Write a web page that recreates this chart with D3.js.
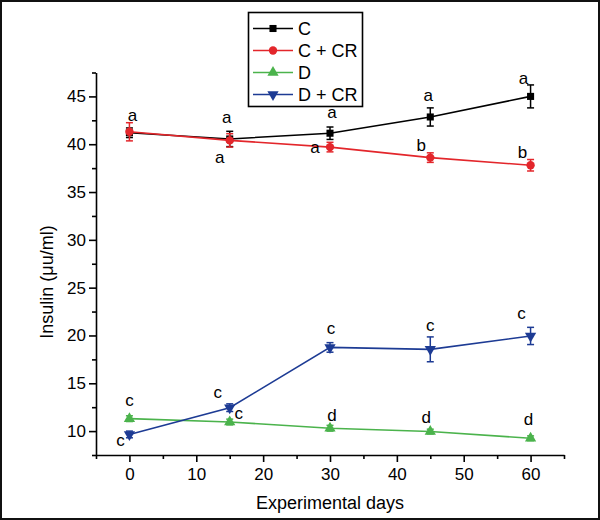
<!DOCTYPE html>
<html>
<head>
<meta charset="utf-8">
<script src="https://cdn.jsdelivr.net/npm/d3@7"></script>
<style>
  body { margin: 0; background: #fff; }
  text { font-family: "Liberation Sans", Arial, sans-serif; fill: #000; }
</style>
</head>
<body>
<script>
// Data
const days = [0, 15, 30, 45, 60];
const seriesNames = ["C", "C + CR", "D", "D + CR"];

const cMean = [41.2, 40.55, 41.15, 42.85, 45.0];
const cErr = [0.5, 0.8, 0.65, 0.95, 1.2];
const ccrMean = [41.3, 40.4, 39.7, 38.6, 37.8];
const ccrErr = [0.95, 0.7, 0.5, 0.5, 0.6];
const dMean = [11.3, 10.95, 10.3, 9.95, 9.25];
const dErr = [0.3, 0.3, 0.3, 0.25, 0.25];
const dcrMean = [9.65, 12.45, 18.75, 18.55, 19.95];
const dcrErr = [0.35, 0.4, 0.5, 1.3, 0.9];

const cLetters = ["a", "a", "a", "a", "a"];
const ccrLetters = ["", "a", "a", "b", "b"];
const dLetters = ["c", "c", "d", "d", "d"];
const dcrLetters = ["c", "c", "c", "c", "c"];

const xTicks = [0, 10, 20, 30, 40, 50, 60];
const xMinor = [-5, 5, 15, 25, 35, 45, 55, 65];
const yTicks = [10, 15, 20, 25, 30, 35, 40, 45];
const yMinor = [7.5, 12.5, 17.5, 22.5, 27.5, 32.5, 37.5, 42.5, 47.5];

// Styles, one per series
const colors = ["#000000", "#e3262b", "#4bb34c", "#1d3b94"];
const shapes = [d3.symbolSquare, d3.symbolCircle, d3.symbolTriangle, d3.symbolTriangle];
const sizes = [50, 55, 55, 55];
const rotate = [0, 0, 0, 180];
// letter positions relative to each point (px)
const letterOffsets = [
  [[3, -17], [-3, -21], [2, -21], [-2, -21], [-7, -18]],
  [[0, 0], [-10, 17], [-15, 0], [-9, -12], [-8, -13]],
  [[0, -18], [9, -9], [2, -13], [-4, -14], [-2, -19]],
  [[-9, 6], [-12, -15], [1, -19], [0, -24], [-9, -22]]
];

const series = [
  { mean: cMean, err: cErr, letters: cLetters },
  { mean: ccrMean, err: ccrErr, letters: ccrLetters },
  { mean: dMean, err: dErr, letters: dLetters },
  { mean: dcrMean, err: dcrErr, letters: dcrLetters }
];

const W = 600, H = 520;

const svg = d3.select("body")
  .append("svg")
  .attr("width", W)
  .attr("height", H);

// frame around the whole figure
svg.append("rect")
  .attr("x", 1).attr("y", 1)
  .attr("width", W - 2).attr("height", H - 2)
  .attr("fill", "#fff")
  .attr("stroke", "#111")
  .attr("stroke-width", 2);

// Scales
const x = d3.scaleLinear().domain([-5, 65]).range([96, 564]);
const y = d3.scaleLinear().domain([7.5, 47.5]).range([455, 72.5]);

// X axis
svg.append("g")
  .attr("transform", `translate(0,${y(7.5)})`)
  .call(d3.axisBottom(x).tickValues(xMinor).tickSize(4).tickFormat(""))
  .call(g => g.select(".domain").remove());
const xAxis = svg.append("g")
  .attr("transform", `translate(0,${y(7.5)})`)
  .call(d3.axisBottom(x).tickValues(xTicks).tickSize(7).tickSizeOuter(0).tickPadding(6));

// Y axis
svg.append("g")
  .attr("transform", `translate(${x(-5)},0)`)
  .call(d3.axisLeft(y).tickValues(yMinor).tickSize(4).tickFormat(""))
  .call(g => g.select(".domain").remove());
const yAxis = svg.append("g")
  .attr("transform", `translate(${x(-5)},0)`)
  .call(d3.axisLeft(y).tickValues(yTicks).tickSize(7).tickSizeOuter(0).tickPadding(3));

svg.selectAll(".tick line, .domain").attr("stroke", "#000").attr("stroke-width", 1.6);
svg.selectAll(".tick text")
  .style("font-family", '"Liberation Sans", Arial, sans-serif')
  .style("font-size", "17px");

// Axis titles
svg.append("text")
  .attr("x", (x(-5) + x(65)) / 2)
  .attr("y", 503)
  .attr("text-anchor", "middle")
  .attr("dominant-baseline", "central")
  .style("font-size", "18px")
  .text("Experimental days");

svg.append("text")
  .attr("transform", "translate(47,282) rotate(-90)")
  .attr("text-anchor", "middle")
  .attr("dominant-baseline", "central")
  .style("font-size", "18px")
  .text("Insulin (\u03bcu/ml)");

// Series: lines, error bars, markers, letters
const line = d3.line()
  .x((d, i) => x(days[i]))
  .y(d => y(d));

series.forEach((s, k) => {
  const g = svg.append("g");

  g.append("path")
    .attr("d", line(s.mean))
    .attr("fill", "none")
    .attr("stroke", colors[k])
    .attr("stroke-width", 1.6);

  const bars = g.selectAll(".err")
    .data(s.mean)
    .enter().append("g");
  bars.append("line")
    .attr("x1", (d, i) => x(days[i])).attr("x2", (d, i) => x(days[i]))
    .attr("y1", (d, i) => y(d - s.err[i])).attr("y2", (d, i) => y(d + s.err[i]))
    .attr("stroke", colors[k]).attr("stroke-width", 1.5);
  [-1, 1].forEach(sign => {
    bars.append("line")
      .attr("x1", (d, i) => x(days[i]) - 3.5).attr("x2", (d, i) => x(days[i]) + 3.5)
      .attr("y1", (d, i) => y(d + sign * s.err[i])).attr("y2", (d, i) => y(d + sign * s.err[i]))
      .attr("stroke", colors[k]).attr("stroke-width", 1.5);
  });

  g.selectAll(".pt")
    .data(s.mean)
    .enter().append("path")
    .attr("d", d3.symbol().type(shapes[k]).size(sizes[k]))
    .attr("transform", (d, i) => `translate(${x(days[i])},${y(d)}) rotate(${rotate[k]})`)
    .attr("fill", colors[k]);

  g.selectAll(".lbl")
    .data(s.letters)
    .enter().append("text")
    .attr("x", (d, i) => x(days[i]) + letterOffsets[k][i][0])
    .attr("y", (d, i) => y(s.mean[i]) + letterOffsets[k][i][1])
    .attr("text-anchor", "middle")
    .attr("dominant-baseline", "central")
    .style("font-size", "17px")
    .text(d => d);
});

// Legend
const legend = svg.append("g");
legend.append("rect")
  .attr("x", 248.5).attr("y", 12.5)
  .attr("width", 114).attr("height", 94)
  .attr("fill", "#fff")
  .attr("stroke", "#000")
  .attr("stroke-width", 1.6);

seriesNames.forEach((name, k) => {
  const ly = 28.5 + k * 22;
  legend.append("line")
    .attr("x1", 253).attr("x2", 293)
    .attr("y1", ly).attr("y2", ly)
    .attr("stroke", colors[k]).attr("stroke-width", 1.6);
  legend.append("path")
    .attr("d", d3.symbol().type(shapes[k]).size(sizes[k]))
    .attr("transform", `translate(273,${ly}) rotate(${rotate[k]})`)
    .attr("fill", colors[k]);
  legend.append("text")
    .attr("x", 298).attr("y", ly)
    .attr("dominant-baseline", "central")
    .style("font-size", "18px")
    .text(name);
});
</script>
</body>
</html>
